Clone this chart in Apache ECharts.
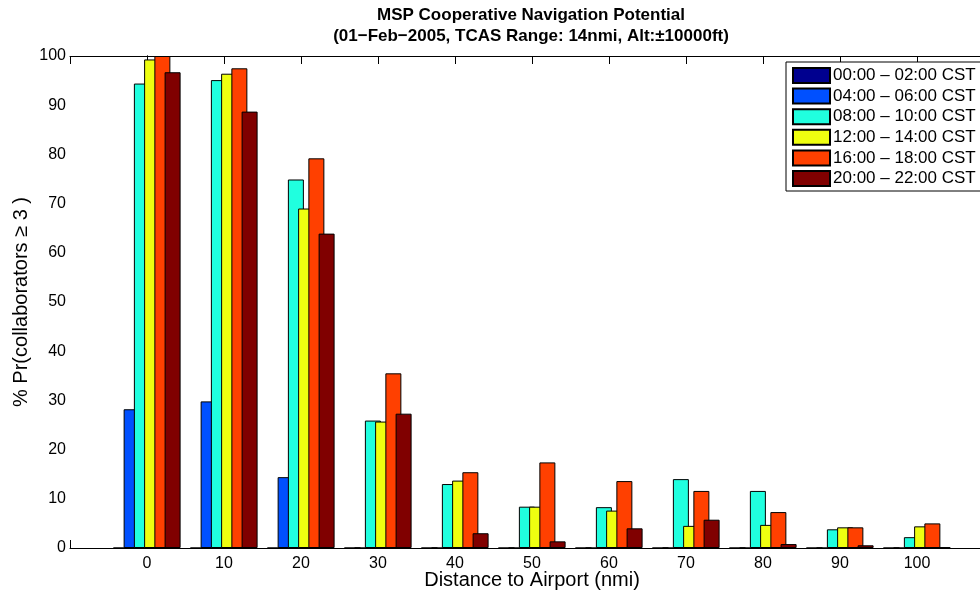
<!DOCTYPE html>
<html>
<head>
<meta charset="utf-8">
<script src="https://cdn.jsdelivr.net/npm/echarts@6/dist/echarts.min.js"></script>
<style>
  html, body { margin: 0; padding: 0; overflow: hidden; background: #fff; }
  #chart { width: 1062px; height: 593px; }
</style>
</head>
<body>
<div id="chart"></div>
<script>
// Distance bins from the airport (nmi)
const distances = [0, 10, 20, 30, 40, 50, 60, 70, 80, 90, 100];

// Two-hour windows of the day
const windowNames = [
  '00:00 \u2013 02:00 CST',
  '04:00 \u2013 06:00 CST',
  '08:00 \u2013 10:00 CST',
  '12:00 \u2013 14:00 CST',
  '16:00 \u2013 18:00 CST',
  '20:00 \u2013 22:00 CST'
];

// % Pr(collaborators >= 3) per distance bin, one array per window
const w0000 = [0, 0, 0, 0, 0, 0, 0, 0, 0, 0, 0];
const w0400 = [28.2, 29.8, 14.4, 0, 0, 0, 0, 0, 0, 0, 0];
const w0800 = [94.4, 95.1, 74.9, 25.9, 13.0, 8.4, 8.3, 14.0, 11.6, 3.8, 2.2];
const w1200 = [99.3, 96.4, 69.0, 25.7, 13.7, 8.4, 7.6, 4.5, 4.7, 4.2, 4.4];
const w1600 = [100, 97.5, 79.2, 35.5, 15.4, 17.4, 13.6, 11.6, 7.3, 4.2, 5.0];
const w2000 = [96.7, 88.7, 63.9, 27.3, 3.0, 1.35, 4.0, 5.75, 0.8, 0.55, 0.15];

const windowValues = [w0000, w0400, w0800, w1200, w1600, w2000];

// jet-style palette
const barColors = ['#00008F', '#0050FF', '#20FFDF', '#EFFF10', '#FF4000', '#800000'];

const FONT = '"Liberation Sans", Arial, Helvetica, sans-serif';

const chart = echarts.init(document.getElementById('chart'), null, { renderer: 'canvas' });

const series = windowNames.map((name, i) => ({
  name: name,
  type: 'bar',
  barWidth: 16,
  barGap: '-36%',
  data: distances.map((d, j) => [d, windowValues[i][j]]),
  itemStyle: {
    color: barColors[i],
    borderColor: '#000',
    borderWidth: 1
  },
  emphasis: { disabled: true },
  animation: false
}));

const xCommon = {
  type: 'value',
  min: -10,
  max: 110,
  interval: 10,
  splitLine: { show: false },
  axisLine: { show: true, onZero: false, lineStyle: { color: '#000', width: 1 } },
  axisTick: { show: true, inside: true, length: 8, lineStyle: { color: '#000' } }
};

chart.setOption({
  animation: false,
  backgroundColor: '#fff',
  title: {
    text: 'MSP Cooperative Navigation Potential\n(01\u2212Feb\u22122005, TCAS Range: 14nmi, Alt:\u00B110000ft)',
    left: 'center',
    top: 5,
    padding: 0,
    textStyle: {
      fontFamily: FONT,
      fontSize: 17,
      fontWeight: 'bold',
      color: '#000',
      lineHeight: 21
    }
  },
  legend: {
    orient: 'vertical',
    left: 786,
    top: 62,
    padding: [5, 40, 4, 6],
    itemWidth: 37,
    itemHeight: 15,
    itemGap: 3.6,
    icon: 'rect',
    backgroundColor: '#fff',
    borderColor: '#000',
    borderWidth: 1,
    selectedMode: false,
    textStyle: {
      fontFamily: FONT,
      fontSize: 17,
      color: '#000',
      padding: [0, 0, 0, -2]
    },
    data: windowNames
  },
  grid: {
    left: 70,
    top: 56,
    width: 924,
    height: 492,
    containLabel: false,
    outerBoundsMode: 'none'
  },
  xAxis: [
    Object.assign({}, xCommon, {
      position: 'bottom',
      name: 'Distance to Airport (nmi)',
      nameLocation: 'middle',
      nameGap: 22,
      nameMoveOverlap: false,
      nameTextStyle: { fontFamily: FONT, fontSize: 20, color: '#000' },
      axisLabel: {
        fontFamily: FONT,
        fontSize: 16,
        color: '#000',
        margin: 8,
        formatter: v => (v < 0 || v > 100) ? '' : String(v)
      }
    }),
    Object.assign({}, xCommon, {
      position: 'top',
      axisLabel: { show: false }
    })
  ],
  yAxis: [
    {
      type: 'value',
      min: 0,
      max: 100,
      interval: 10,
      name: '% Pr(collaborators \u2265 3 )',
      nameLocation: 'middle',
      nameRotate: 90,
      nameGap: 39,
      nameMoveOverlap: false,
      nameTextStyle: { fontFamily: FONT, fontSize: 20, color: '#000' },
      splitLine: { show: false },
      axisLine: { show: true, lineStyle: { color: '#000', width: 1 } },
      axisTick: { show: true, inside: true, length: 8, lineStyle: { color: '#000' } },
      axisLabel: { fontFamily: FONT, fontSize: 16, color: '#000', margin: 4 }
    },
    {
      type: 'value',
      min: 0,
      max: 100,
      interval: 10,
      position: 'right',
      splitLine: { show: false },
      axisLine: { show: true, lineStyle: { color: '#000', width: 1 } },
      axisTick: { show: true, inside: true, length: 8, lineStyle: { color: '#000' } },
      axisLabel: { show: false }
    }
  ],
  series: series
});
</script>
</body>
</html>
